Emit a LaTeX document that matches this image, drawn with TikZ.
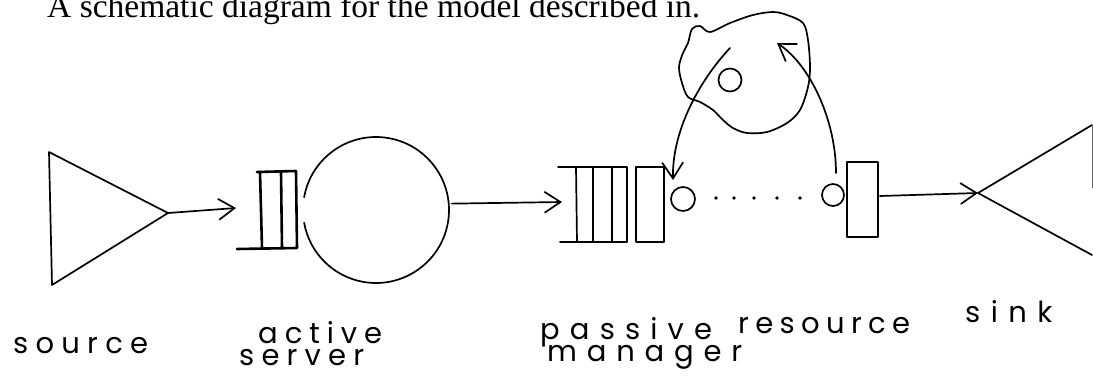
\documentclass[tikz,border=0pt]{standalone}
\usepackage{fontspec}
\setmainfont{Liberation Serif}
\newfontfamily\handfont{Poppins}
\usetikzlibrary{arrows.meta,calc}

% spread the letters of one word over a given width
\makeatletter
\newcommand\spreadword[2]{\makebox[#1][s]{\spr@first#2\relax}}
\def\spr@first#1{#1\spr@next}
\def\spr@next#1{\ifx\relax#1\else\hfil#1\expandafter\spr@next\fi}
\makeatother

\begin{document}
\begin{tikzpicture}[x=1pt,y=-1pt,
  pen/.style={line width=1.7pt, line cap=round, line join=round},
  heavypen/.style={line width=2.6pt, line cap=round, line join=round},
  barb/.style={-{Straight Barb[length=16pt,width=21pt,line width=1.7pt]}},
  box/.style={draw, pen, inner sep=0pt, outer sep=0pt},
  token/.style={circle, draw, pen, inner sep=0pt, outer sep=0pt},
  hand/.style={font=\handfont\fontsize{29}{29}\selectfont, inner sep=0pt, anchor=base west},
]
\useasboundingbox (0,0) rectangle (1093,389);

% caption line, cut off at the top edge
\node[anchor=base west, inner sep=0pt, font=\fontsize{33.5}{33.5}\selectfont] (title)
  at (47,17) {A schematic diagram for the model described in.};

% source
\draw[pen] (49,152) -- (168,213) -- (52,285) -- cycle;
\coordinate (srctip) at (168,213);
\coordinate (aqin) at (236,208);
\draw[pen,barb] (srctip) -- (aqin);

% queue in front of the active server
\draw[heavypen] (257,172) -- (296,171) (237,249) -- (297,248)
  (260,172) -- (262,248) (281,172) -- (282,248) (296,171) -- (297,248);

% active server
\node[circle, minimum size=146pt, inner sep=0pt] (srv) at (376,210) {};
\draw[pen] ($(srv.center)+(190:73)$) arc[start angle=190, end angle=530, radius=73];

% passive resource manager: waiting queue and holding box
\coordinate (pqin) at (562,202);
\draw[pen,barb] ($(srv.5)+(3,0)$) -- (pqin);
\node[minimum width=69pt, minimum height=75pt, inner sep=0pt] (pq) at (592.5,204.5) {};
\draw[pen] (558,167) -- (627,167) (560,242) -- (627,242)
  (576,167) -- (577,242) (593,167) -- (593,242) (612,167) -- (612,242) (627,167) -- (627,242);
\node[box, minimum width=28pt, minimum height=75pt] (pbox) at (650,204.5) {};

% resource tokens in use
\node[token, minimum size=24pt] (tok1) at (683,199) {};
\foreach \x in {716,734,754,777,800} \fill (\x,198) circle[radius=1.9];
\node[token, minimum size=22pt] (tok2) at (833,195) {};
\node[box, minimum width=31pt, minimum height=75pt] (rb) at (862.5,199.5) {};

% sink
\coordinate (sinktip) at (978,193);
\draw[pen] (1092,125) -- (sinktip) -- (1092,255);
\draw[line width=0.9pt, black!60] (1092,125) -- (1092,188);
\draw[pen,barb] ($(rb.east)+(2,-3.5)$) -- (sinktip);

% resource pool
\draw[pen] plot[smooth cycle, tension=0.55] coordinates {
  (688,43) (692,29) (700,26) (710,32) (730,23) (753,15) (773,12) (787,15)
  (803,23) (808,40) (810,67) (808,87) (800,110) (787,123) (767,132) (747,133)
  (733,128) (723,120) (713,110) (700,102) (688,97) (682,83) (679,67) (683,53)};
\node[token, minimum size=23pt] (pool) at (730,80) {};

% take from and return to the pool
\coordinate (takestart) at (730,48);
\coordinate (takeend) at (673,180);
\draw[pen,barb] (takestart) .. controls (700,80) and (672,130) .. (takeend);
\coordinate (givestart) at (836,173);
\coordinate (giveend) at (777,43);
\draw[pen,barb] (givestart) .. controls (836,120) and (810,65) .. (giveend);

% labels
\node[hand] (lsource) at (13,353) {\spreadword{135pt}{source}};
\node[hand] (lactive) at (258,343) {\spreadword{124pt}{active}};
\node[hand] (lserver) at (239,365) {\spreadword{125pt}{server}};
\node[hand] (lpassive) at (540,339) {\spreadword{172pt}{passive}};
\node[hand] (lresource) at (738,333) {\spreadword{172pt}{resource}};
\node[hand] (lmanager) at (547,361) {\spreadword{195pt}{manager}};
\node[hand] (lsink) at (965,322) {\spreadword{87pt}{sink}};
\end{tikzpicture}
\end{document}
